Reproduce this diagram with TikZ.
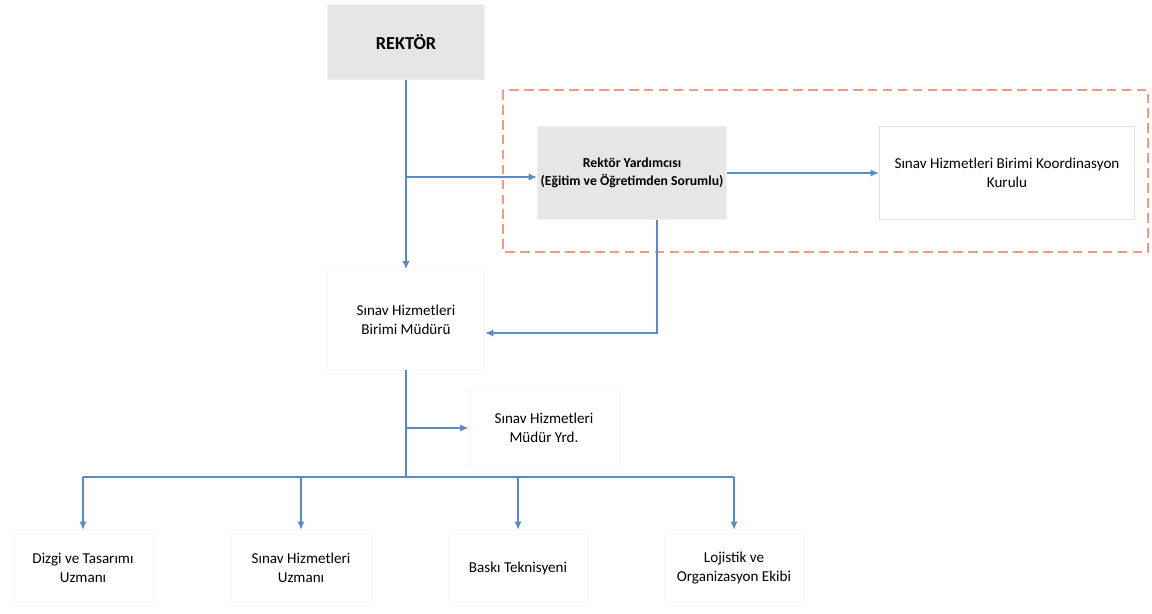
\documentclass[tikz,border=0pt]{standalone}
\usepackage{fontspec}
\setmainfont{Carlito}
\usepackage{tikz}
\usetikzlibrary{arrows.meta, positioning, calc}
\definecolor{linkblue}{HTML}{5A8AC6}
\definecolor{framered}{HTML}{F29A87}
\definecolor{boxgray}{HTML}{E6E6E6}

\begin{document}
\begin{tikzpicture}[
	% Work in reference pixels (y grows downwards).
	x=0.02cm, y=-0.02cm
	]
	% Define custom styles to make the code cleaner and more reusable.
	\tikzset{
		head/.style={rectangle, fill=boxgray, draw=black!6, minimum width=3.14cm, minimum height=1.5cm, align=center, font=\fontsize{10.4}{12}\selectfont\bfseries},
		unit/.style={rectangle, draw=black!3, minimum width=3.14cm, minimum height=1.5cm, align=center, font=\fontsize{8.6}{10.8}\selectfont},
		line/.style={draw=linkblue, line width=1.1pt, -{Latex[length=1.7mm, width=1.4mm]}},
		bus/.style={draw=linkblue, line width=1.1pt},
		frame/.style={draw=framered, line width=1.4pt, dash pattern=on 5.5pt off 3pt}
	}
	\useasboundingbox (0,0) rectangle (1152,613);
	
	% === NODES ===
	% Top of the chart, then the coordination group on the right.
	
	\node[head] (rektor) at (406,42) {REKTÖR};
	\node[head, inner xsep=1pt, minimum width=3.78cm, minimum height=1.86cm, font=\fontsize{7.8}{10}\selectfont\bfseries] (ryard) at (632,173) {Rektör Yardımcısı\\(Eğitim ve Öğretimden Sorumlu)};
	\node[unit, draw=black!12, minimum width=5.1cm, minimum height=1.86cm] (kurul) at (1007,173) {Sınav Hizmetleri Birimi Koordinasyon\\Kurulu};
	
	% Unit management.
	\node[unit, minimum height=2cm] (mudur) at (406,320) {Sınav Hizmetleri\\Birimi Müdürü};
	\node[unit, minimum width=3cm] (myrd) at (544,428) {Sınav Hizmetleri\\Müdür Yrd.};
	
	% Staff along the bottom.
	\node[unit, minimum width=2.8cm] (dizgi) at (83,568) {Dizgi ve Tasarımı\\Uzmanı};
	\node[unit, minimum width=2.8cm] (uzman) at (301,568) {Sınav Hizmetleri\\Uzmanı};
	\node[unit, minimum width=2.8cm] (baski) at (518,568) {Baskı Teknisyeni};
	\node[unit, minimum width=2.8cm] (lojistik) at (734,568) {Lojistik ve\\Organizasyon Ekibi};
	
	\coordinate (split) at (406,477);
	\coordinate (ryin) at ([yshift=-0.08cm]ryard.west);
	
	% Dashed frame round the coordination group.
	\draw[frame] (503,90) rectangle (1148,252);
	
	% === CONNECTIONS ===
	
	\draw[line] (rektor.south) -- (mudur.north);
	\draw[line] (rektor.south |- ryin) -- (ryin);
	\draw[line] (ryard.east) -- (kurul.west);
	\draw[line] ($(ryard.south)+(25,0)$) |- ([yshift=-0.26cm]mudur.east);
	\draw[bus] (mudur.south) -- (split);
	\draw[line] (mudur.south |- myrd.west) -- (myrd.west);
	\draw[bus] (dizgi.north |- split) -- (lojistik.north |- split);
	\foreach \n in {dizgi, uzman, baski, lojistik}
		\draw[line] (\n.north |- split) -- (\n.north);
\end{tikzpicture}
\end{document}
